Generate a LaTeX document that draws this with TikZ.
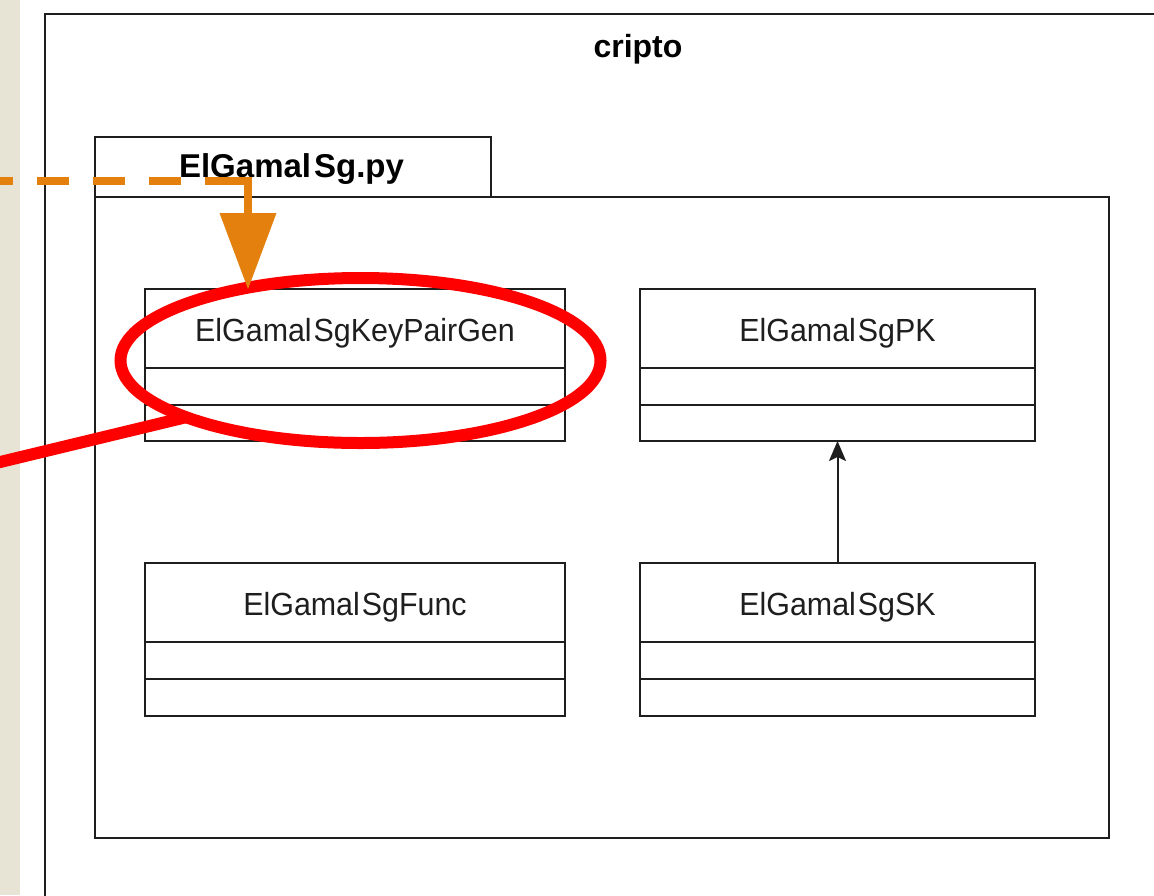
\documentclass[tikz,border=0pt]{standalone}
\usepackage{fontspec}
\setmainfont{Liberation Sans}
\newfontfamily\narrowsans[FakeStretch=0.95]{Liberation Sans}
\usetikzlibrary{arrows.meta,shapes.geometric,calc}

\definecolor{sidebeige}{HTML}{E8E4D5}
\definecolor{framegray}{HTML}{1E1E1E}
\definecolor{markorange}{HTML}{E3800E}
\definecolor{markred}{HTML}{FF0000}

\tikzset{
  frameline/.style={draw=framegray, line width=2pt},
  classframe/.style={frameline, fill=white, rectangle, inner sep=0pt, outer sep=0pt, anchor=north west},
  classname/.style={inner sep=0pt, anchor=base, font=\narrowsans\fontsize{32}{38}\selectfont, text=framegray},
  boldtitle/.style={inner sep=0pt, anchor=base, font=\fontsize{32}{38}\selectfont\bfseries, text=black},
  ordash/.style={draw=markorange, line width=8pt, dash pattern=on 32pt off 24pt, dash phase=19pt},
  orsolid/.style={draw=markorange, line width=8pt, line join=miter},
  redpen/.style={draw=markred, line width=12pt},
}

% one UML class: name, top-left corner, width, height, label
\newcommand\classbox[5]{%
  \node[classframe, minimum width=#3, minimum height=#4] (#1) at (#2) {};
  \node[classname] (#1-name) at ($(#1.north)+(0,52)$) {#5};
  \draw[frameline] ($(#1.north west)+(0,79)$) -- ($(#1.north east)+(0,79)$);
  \draw[frameline] ($(#1.north west)+(0,116)$) -- ($(#1.north east)+(0,116)$);
}

\begin{document}
\begin{tikzpicture}[x=1pt, y=-1pt]
  \useasboundingbox (0,0) rectangle (1154,895);
  \clip (0,0) rectangle (1154,895);
  \fill[white] (0,0) rectangle (1154,895);
  \fill[sidebeige] (0,0) rectangle (19.5,895);

  % outer package "cripto"
  \draw[frameline] (45,905) -- (45,14) -- (1165,14);
  \node[boldtitle] (cripto) at (638,57) {cripto};

  % module package ElGamalSg.py
  \node[classframe, minimum width=396pt, minimum height=60pt] (tab) at (95,137) {};
  \node[boldtitle, font=\fontsize{33}{39}\selectfont\bfseries] (tabname) at (291.5,177) {ElGamal\kern3pt Sg.py};
  \node[classframe, minimum width=1014pt, minimum height=641pt] (pkgbody) at (95,197) {};

  % classes
  \classbox{kpg}{145,289}{420pt}{152pt}{ElGamal\kern2pt SgKeyPairGen}
  \classbox{pk}{640,289}{395pt}{152pt}{ElGamal\kern2pt SgPK}
  \classbox{func}{145,563}{420pt}{153pt}{ElGamal\kern2pt SgFunc}
  \classbox{sk}{640,563}{395pt}{153pt}{ElGamal\kern2pt SgSK}

  % generalization SK -> PK
  \draw[draw=framegray, line width=2pt, -{Stealth[length=20pt, width=17pt, inset=4pt]}] (sk.north) -- (pk.south);

  % red highlight
  \node[ellipse, draw=markred, line width=12pt, minimum width=480pt, minimum height=165pt,
        inner sep=0pt, outer sep=0pt] (ell) at (360.5,360.5) {};
  \coordinate (redstart) at (-6,463.5);
  \draw[redpen] (redstart) -- (ell.198.6);

  % orange pointer
  \coordinate (orstart) at (0,181);
  \coordinate (orjoin) at (205,181);
  \coordinate (orbend) at (248,181);
  \draw[ordash] (orstart) -- (orjoin);
  \draw[orsolid, -{Triangle[length=76pt, width=57pt, line width=0pt]}] (orjoin) -- (orbend) -- (orbend |- kpg.north);
\end{tikzpicture}
\end{document}
